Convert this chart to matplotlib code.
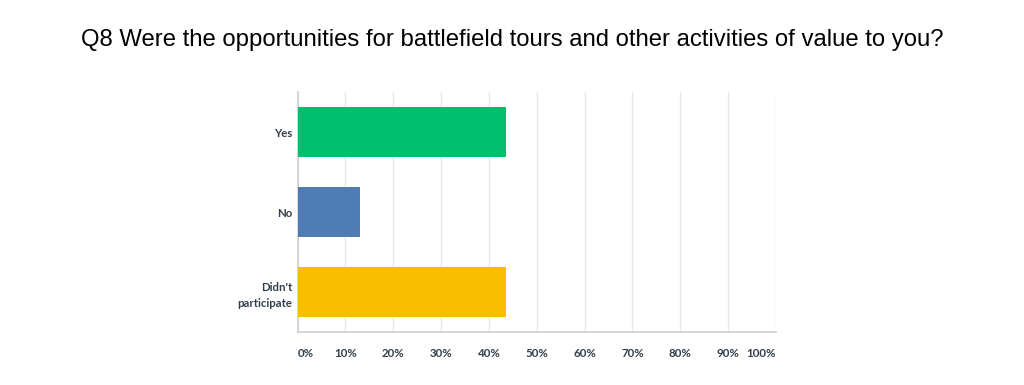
import matplotlib.pyplot as plt

# survey answers, percent of respondents
categories = ["Yes", "No", "Didn't\nparticipate"]
values = [43.48, 13.04, 43.48]
colors = ["#00bf6f", "#507cb6", "#f9be00"]
xticks = [0, 10, 20, 30, 40, 50, 60, 70, 80, 90, 100]
xtick_labels = [f"{t}%" for t in xticks]
title = "Q8 Were the opportunities for battlefield tours and other activities of value to you?"

fig = plt.figure(figsize=(10.24, 3.85), dpi=100)
ax = fig.add_axes([0.2907, 0.137, 0.467, 0.624])

ypos = list(range(len(categories)))
ax.barh(ypos, values, height=0.625, color=colors, zorder=3)
ax.set_ylim(len(categories) - 0.5, -0.5)
ax.set_xlim(0, 100)

ax.set_yticks(ypos)
ax.set_yticklabels(categories, fontsize=8.2, fontweight="bold", color="#333e48",
                   family="Lato", ha="right", multialignment="right",
                   linespacing=1.5)
ax.set_xticks(xticks)
ax.set_xticklabels(xtick_labels, fontsize=8.3, fontweight="bold", color="#333e48",
                   family="Lato")
lbls = ax.get_xticklabels()
lbls[0].set_ha("left")
lbls[-1].set_ha("right")
ax.tick_params(axis="x", length=0, pad=11)
ax.tick_params(axis="y", length=0, pad=4)

ax.grid(axis="x", color="#e8e8e8", linewidth=1, zorder=0)
for s in ["top", "right"]:
    ax.spines[s].set_visible(False)
for s in ["left", "bottom"]:
    ax.spines[s].set_color("#cfcfcf")
    ax.spines[s].set_linewidth(1.2)

fig.text(0.5, 0.895, title, ha="center", va="center", fontsize=17.2,
         family="Liberation Sans", color="#000000")

fig.savefig("out.png", dpi=100)
